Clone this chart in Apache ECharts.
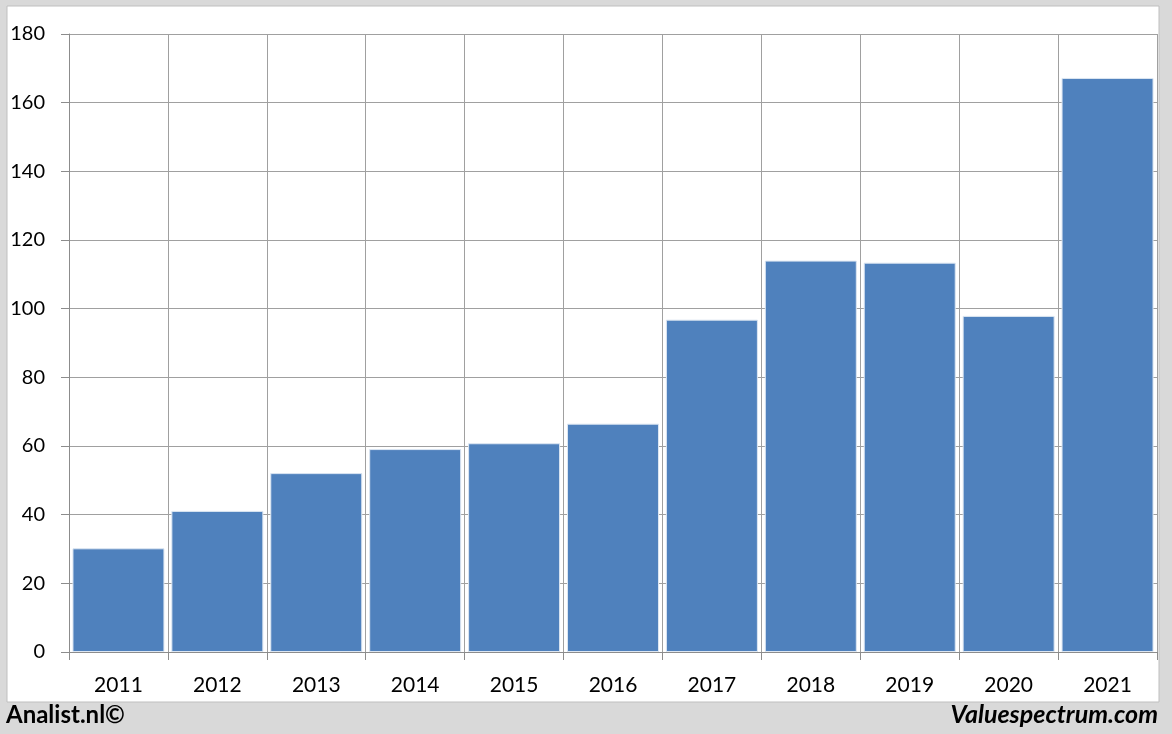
<!DOCTYPE html>
<html><head><meta charset="utf-8">
<script src="https://cdn.jsdelivr.net/npm/echarts@6/dist/echarts.min.js"></script>
<style>html,body{margin:0;padding:0;background:#d9d9d9}#c{width:1172px;height:734px}</style>
</head><body><div id="c"></div>
<script>
const categories = ['2011','2012','2013','2014','2015','2016','2017','2018','2019','2020','2021'];
const values = [30.2, 41.1, 52.1, 59.1, 60.8, 66.5, 96.8, 114.0, 113.4, 97.9, 167.2];
const yMin = 0, yMax = 180, yStep = 20;
const FONT = 'Lato, "Open Sans", sans-serif';
const chart = echarts.init(document.getElementById('c'), null, {renderer:'canvas'});
chart.setOption({
  backgroundColor: '#d9d9d9',
  animation: false,
  graphic: [
    {type:'rect', z:-10, shape:{x:7, y:6, width:1152, height:696}, style:{fill:'#ffffff', stroke:'#bfbfbf', lineWidth:1}},
    {type:'text', left:6, top:703, style:{text:'Analist.nl©', font:'bold 24px ' + FONT, fill:'#000'}},
    {type:'text', right:14, top:702, style:{text:'Valuespectrum.com', font:'italic bold 25px ' + FONT, fill:'#000'}}
  ],
  grid: {left:69, right:15, top:34, bottom:82, containLabel:false},
  xAxis: {
    type:'category', data: categories,
    axisLine:{show:true, lineStyle:{color:'#8c8c8c', width:1}},
    axisTick:{show:true, alignWithLabel:false, length:8, lineStyle:{color:'#8c8c8c'}},
    splitLine:{show:true, lineStyle:{color:'#a0a0a0', width:1}},
    axisLabel:{color:'#000', fontSize:21, fontFamily:FONT, margin:23}
  },
  yAxis: {
    type:'value', min:yMin, max:yMax, interval:yStep,
    axisLine:{show:true, lineStyle:{color:'#8c8c8c'}},
    axisTick:{show:true, length:8, lineStyle:{color:'#8c8c8c'}},
    splitLine:{show:true, lineStyle:{color:'#a0a0a0', width:1}},
    axisLabel:{color:'#000', fontSize:20, fontFamily:FONT, margin:24}
  },
  series: [{
    type:'bar', data: values, barCategoryGap:'7%',
    itemStyle:{color:'#4f81bd', borderColor:'#dce6f2', borderWidth:1}
  }]
});
</script></body></html>
